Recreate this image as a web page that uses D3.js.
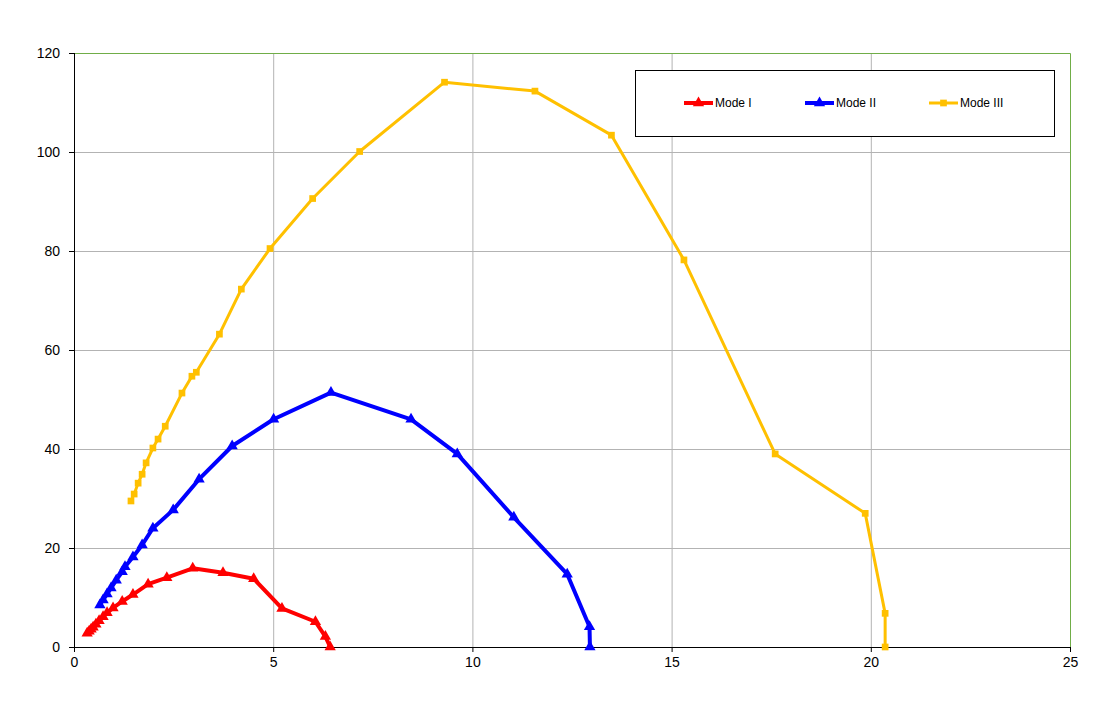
<!DOCTYPE html>
<html>
<head>
<meta charset="utf-8">
<script src="https://cdn.jsdelivr.net/npm/d3@7"></script>
<style>
  body { margin: 0; background: #fff; }
  text { font-family: "Liberation Sans", Arial, sans-serif; }
</style>
</head>
<body>
<script>
// data
const modeI_x = [0.33, 0.38, 0.43, 0.48, 0.55, 0.63, 0.73, 0.83, 0.98, 1.21, 1.48, 1.86, 2.33, 2.98, 3.74, 4.51, 5.22, 6.06, 6.31, 6.43]
const modeI_y = [2.8, 3.2, 3.6, 4.0, 4.6, 5.3, 6.1, 6.9, 7.9, 9.2, 10.6, 12.7, 14.0, 15.9, 15.0, 13.8, 7.8, 5.1, 2.1, 0]

const modeII_x = [0.65, 0.73, 0.83, 0.93, 1.06, 1.21, 1.28, 1.48, 1.71, 1.98, 2.49, 3.14, 3.97, 5.01, 6.45, 8.46, 9.62, 11.04, 12.38, 12.94, 12.95]
const modeII_y = [8.5, 9.5, 10.7, 11.9, 13.5, 15.2, 16.2, 18.2, 20.6, 24.0, 27.7, 33.9, 40.6, 46.0, 51.4, 46.0, 39.0, 26.2, 14.7, 4.1, 0]

const modeIII_x = [1.43, 1.51, 1.61, 1.71, 1.81, 1.98, 2.11, 2.29, 2.71, 2.96, 3.07, 3.65, 4.20, 4.92, 5.99, 7.17, 9.30, 11.57, 13.49, 15.31, 17.60, 19.86, 20.36, 20.36]
const modeIII_y = [29.5, 30.9, 33.1, 34.9, 37.2, 40.2, 42.0, 44.6, 51.3, 54.7, 55.5, 63.2, 72.3, 80.5, 90.6, 100.1, 114.1, 112.3, 103.4, 78.2, 39.0, 27.0, 6.8, 0]

const xTicks = [0, 5, 10, 15, 20, 25]
const yTicks = [0, 20, 40, 60, 80, 100, 120]

const series = [
    { name: 'Mode I', xs: modeI_x, ys: modeI_y, color: '#FF0000', width: 4, marker: 'tri' },
    { name: 'Mode II', xs: modeII_x, ys: modeII_y, color: '#0000FF', width: 4, marker: 'tri' },
    { name: 'Mode III', xs: modeIII_x, ys: modeIII_y, color: '#FFC000', width: 3, marker: 'sq' }
]

var width = 1106, height = 711
var pLeft = 74, pRight = 1070, pTop = 53, pBottom = 647

var svg = d3.select('body').append('svg')
    .attr('width', width)
    .attr('height', height)

var xscale = d3.scaleLinear().domain([0, 25]).range([pLeft, pRight])
var yscale = d3.scaleLinear().domain([0, 120]).range([pBottom, pTop])

// gridlines
svg.append('g').selectAll('line')
    .data(xTicks.slice(1, -1))
    .join('line')
    .attr('x1', d => xscale(d) + 0.5).attr('x2', d => xscale(d) + 0.5)
    .attr('y1', pTop).attr('y2', pBottom)
    .attr('stroke', '#b3b3b3').attr('stroke-width', 1)

svg.append('g').selectAll('line')
    .data(yTicks.slice(1, -1))
    .join('line')
    .attr('x1', pLeft).attr('x2', pRight)
    .attr('y1', d => yscale(d) + 0.5).attr('y2', d => yscale(d) + 0.5)
    .attr('stroke', '#b3b3b3').attr('stroke-width', 1)

// green frame on top and right
svg.append('path')
    .attr('d', `M${pLeft},${pTop + 0.5}H${pRight + 0.5}V${pBottom}`)
    .attr('fill', 'none')
    .attr('stroke', '#70AD47')
    .attr('stroke-width', 1)

// axes
var x_axis = d3.axisBottom(xscale).tickValues(xTicks).tickSize(5).tickPadding(5)
var y_axis = d3.axisLeft(yscale).tickValues(yTicks).tickSize(5).tickPadding(9)

var gx = svg.append('g')
    .attr('transform', 'translate(0,' + pBottom + ')')
    .call(x_axis)
var gy = svg.append('g')
    .attr('transform', 'translate(' + pLeft + ',0)')
    .call(y_axis)

gx.select('.domain').attr('d', `M${pLeft},0.5H${pRight}`)
gy.select('.domain').attr('d', `M0.5,${pTop}V${pBottom}`)
svg.selectAll('.tick text')
    .attr('font-size', 14)
    .attr('font-family', '"Liberation Sans", Arial, sans-serif')
    .attr('fill', '#000')

// lines and markers
var line = d3.line().x(d => xscale(d[0])).y(d => yscale(d[1]))
var tri = d3.symbol().type(d3.symbolTriangle).size(55)
var sq = d3.symbol().type(d3.symbolSquare).size(45)

series.forEach(s => {
    var pts = s.xs.map((x, i) => [x, s.ys[i]])
    svg.append('path')
        .datum(pts)
        .attr('d', line)
        .attr('fill', 'none')
        .attr('stroke', s.color)
        .attr('stroke-width', s.width)
        .attr('stroke-linejoin', 'round')

    svg.append('g').selectAll('path')
        .data(pts)
        .join('path')
        .attr('transform', d => `translate(${xscale(d[0])},${yscale(d[1])})`)
        .attr('d', s.marker == 'tri' ? tri : sq)
        .attr('fill', s.color)
})

// legend
var legend = svg.append('g')
svg.append('rect')
    .attr('x', 635.5).attr('y', 70.5)
    .attr('width', 419).attr('height', 66)
    .attr('fill', '#fff').attr('stroke', '#000').attr('stroke-width', 1)
legend.raise()

var legX = [684, 805, 929]
series.forEach((s, i) => {
    var g = legend.append('g').attr('transform', `translate(${legX[i]},103)`)
    g.append('line')
        .attr('x1', 0).attr('x2', 29)
        .attr('stroke', s.color).attr('stroke-width', s.width)
    g.append('path')
        .attr('transform', 'translate(14.5,0)')
        .attr('d', s.marker == 'tri' ? tri : sq)
        .attr('fill', s.color)
    g.append('text')
        .attr('x', 31).attr('y', 4)
        .attr('font-size', 12)
        .text(s.name)
})
</script>
</body>
</html>
